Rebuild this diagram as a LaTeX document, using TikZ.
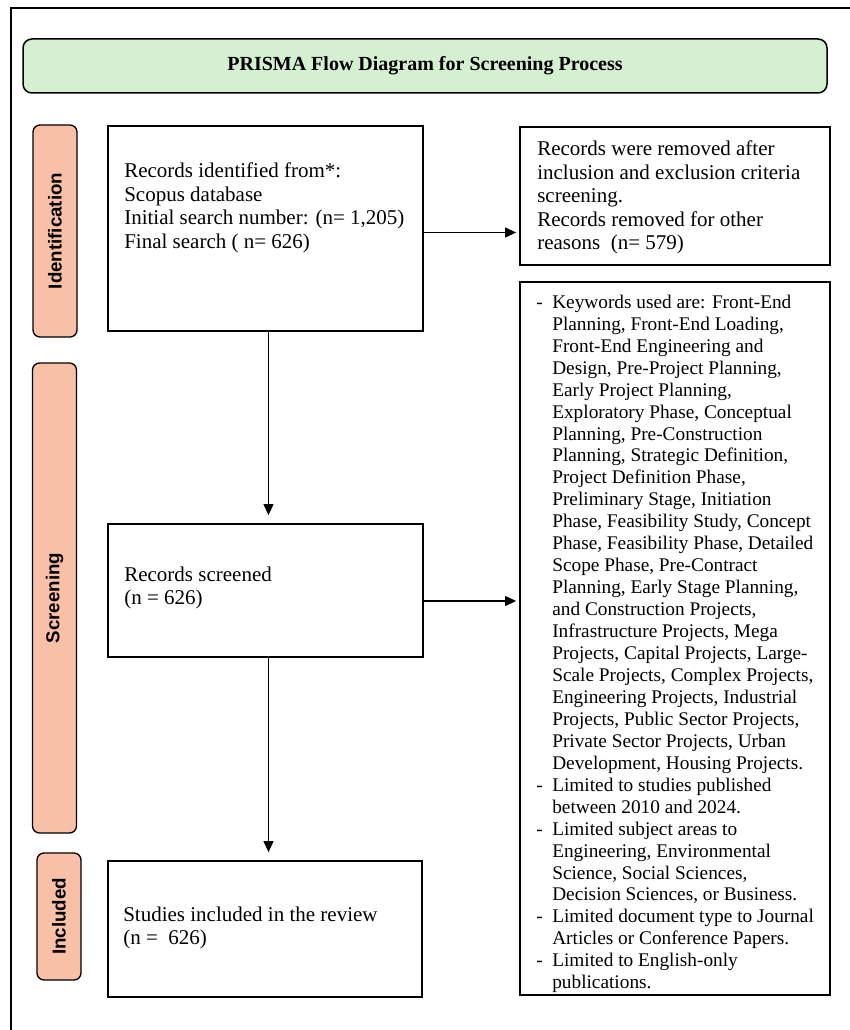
\documentclass[tikz,border=0pt]{standalone}
\usepackage{fontspec}
\setmainfont{Liberation Serif}
\setsansfont{Liberation Sans}
\usepackage{xcolor}
\usetikzlibrary{arrows.meta, positioning}

\definecolor{titlegreen}{RGB}{213,240,208}
\definecolor{phasefill}{RGB}{249,192,168}

\newcommand{\kwdash}{\makebox[16pt][l]{-}}
\newcommand{\kwind}{\hspace*{16pt}}

\begin{document}
\begin{tikzpicture}[
    x=1pt, y=-1pt,
    font=\fontsize{21}{23.5}\selectfont,
    box/.style={rectangle, draw, line width=1.8pt, inner sep=0pt},
    phase/.style={rectangle, rounded corners=7pt, draw, line width=1.3pt,
                  fill=phasefill, rotate=90, inner sep=0pt, minimum height=44pt,
                  font=\sffamily\bfseries\fontsize{18.7}{21}\selectfont},
    titlebox/.style={rectangle, rounded corners=9pt, draw, line width=1.5pt,
                     fill=titlegreen, minimum width=804pt, minimum height=54pt,
                     font=\bfseries\fontsize{20}{23}\selectfont},
    txt/.style={anchor=north west, align=left, inner sep=0pt},
    arr/.style={-{Triangle[length=11pt, width=10pt]}, line width=1.1pt}
]
\useasboundingbox (0,0) rectangle (850,1030);
\draw[line width=1.3pt] (11,1040) -- (11,8) -- (860,8);

\node[titlebox] (title) at (425,66) {PRISMA Flow Diagram for Screening Process};

% phases on the left
\node[phase, minimum width=212pt] (ident)  at (55,231)   {Identification};
\node[phase, minimum width=470pt] (screen) at (54.5,598) {Screening};
\node[phase, minimum width=127pt] (incl)   at (59,916.5) {Included};

% flow boxes
\node[box, minimum width=315pt, minimum height=205pt] (found)    at (265.5,228.5) {};
\node[box, minimum width=310pt, minimum height=138pt] (removed)  at (675,196)     {};
\node[box, minimum width=315pt, minimum height=133pt] (screened) at (265.5,590.5) {};
\node[box, minimum width=310pt, minimum height=713pt] (criteria) at (675,638.5)   {};
\node[box, minimum width=314pt, minimum height=136pt] (studies)  at (265,929)     {};

\node[txt] (foundTxt) at ([shift={(17,37.5)}]found.north west)
    {Records identified from*:\\Scopus database\\
     Initial search number: (n= 1,205)\\Final search ( n= 626)};
\node[txt] (removedTxt) at ([shift={(18,14.5)}]removed.north west)
    {Records were removed after\\inclusion and exclusion criteria\\screening.\\
     Records removed for other\\reasons\ \ (n= 579)};
\node[txt] (screenedTxt) at ([shift={(17,43.5)}]screened.north west)
    {Records screened\\(n = 626)};
\node[txt] (studiesTxt) at ([shift={(16,46.5)}]studies.north west)
    {Studies included in the review\\(n =\ \ 626)};
\node[txt, font=\fontsize{19.3}{21.95}\selectfont] (criteriaTxt)
    at ([shift={(17,13.6)}]criteria.north west)
    {\kwdash Keywords used are: Front-End\\
     \kwind Planning, Front-End Loading,\\
     \kwind Front-End Engineering and\\
     \kwind Design, Pre-Project Planning,\\
     \kwind Early Project Planning,\\
     \kwind Exploratory Phase, Conceptual\\
     \kwind Planning, Pre-Construction\\
     \kwind Planning, Strategic Definition,\\
     \kwind Project Definition Phase,\\
     \kwind Preliminary Stage, Initiation\\
     \kwind Phase, Feasibility Study, Concept\\
     \kwind Phase, Feasibility Phase, Detailed\\
     \kwind Scope Phase, Pre-Contract\\
     \kwind Planning, Early Stage Planning,\\
     \kwind and Construction Projects,\\
     \kwind Infrastructure Projects, Mega\\
     \kwind Projects, Capital Projects, Large-\\
     \kwind Scale Projects, Complex Projects,\\
     \kwind Engineering Projects, Industrial\\
     \kwind Projects, Public Sector Projects,\\
     \kwind Private Sector Projects, Urban\\
     \kwind Development, Housing Projects.\\
     \kwdash Limited to studies published\\
     \kwind between 2010 and 2024.\\
     \kwdash Limited subject areas to\\
     \kwind Engineering, Environmental\\
     \kwind Science, Social Sciences,\\
     \kwind Decision Sciences, or Business.\\
     \kwdash Limited document type to Journal\\
     \kwind Articles or Conference Papers.\\
     \kwdash Limited to English-only\\
     \kwind publications.};

% connectors
\draw[arr, shorten >=3pt] ([yshift=-4pt]found.east) -- ([yshift=-4pt]found.east -| removed.west);
\draw[arr, shorten >=3pt] ([yshift=-10.5pt]screened.east) -- ([yshift=-10.5pt]screened.east -| criteria.west);
\draw[arr, shorten >=8pt] ([xshift=3pt]found.south) -- ([xshift=3pt]screened.north);
\draw[arr, shorten >=8pt] ([xshift=3pt]screened.south) -- ([xshift=3pt]screened.south |- studies.north);
\end{tikzpicture}
\end{document}
